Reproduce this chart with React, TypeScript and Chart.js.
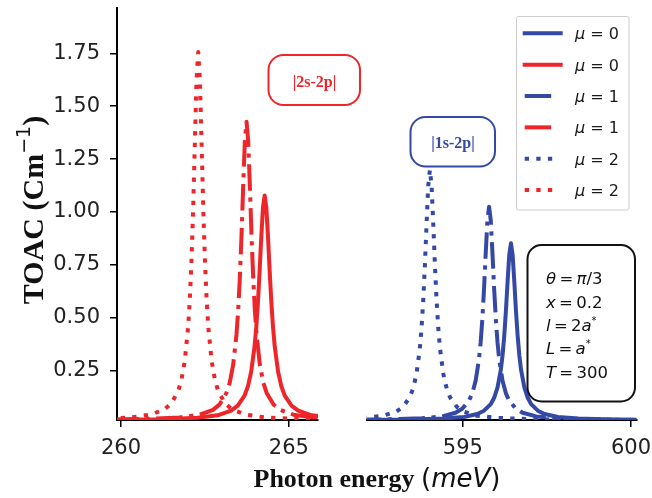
import React, { useEffect, useRef } from "react";
import { Chart, registerables } from "chart.js";
Chart.register(...registerables);

// ---------- data ----------
const xTicksLeft = [260, 265];
const xTicksRight = [595, 600];
const yTicks = [0.25, 0.5, 0.75, 1.0, 1.25, 1.5, 1.75];
const legendMu = [0, 0, 1, 1, 2, 2];

// |2s-2p| (red)
const red0X = [258.28, 260.28, 261.28, 262.28, 262.88, 263.28, 263.48, 263.68, 263.78, 263.88, 263.98, 264.03, 264.08, 264.13, 264.18, 264.23, 264.28, 264.33, 264.38, 264.43, 264.48, 264.53, 264.58, 264.68, 264.78, 264.88, 265.08, 265.28, 265.68, 266.28, 267.28, 268.28, 270.28];
const red0Y = [0.017, 0.019, 0.021, 0.028, 0.039, 0.061, 0.085, 0.132, 0.175, 0.246, 0.365, 0.455, 0.573, 0.719, 0.882, 1.021, 1.078, 1.021, 0.882, 0.719, 0.573, 0.455, 0.365, 0.246, 0.175, 0.132, 0.085, 0.061, 0.039, 0.028, 0.021, 0.019, 0.017];

const red1X = [257.74, 259.74, 260.74, 261.74, 262.34, 262.74, 262.94, 263.14, 263.24, 263.34, 263.44, 263.49, 263.54, 263.59, 263.64, 263.69, 263.74, 263.79, 263.84, 263.89, 263.94, 263.99, 264.04, 264.14, 264.24, 264.34, 264.54, 264.74, 265.14, 265.74, 266.74, 267.74, 269.74];
const red1Y = [0.017, 0.019, 0.022, 0.029, 0.042, 0.065, 0.091, 0.145, 0.194, 0.276, 0.42, 0.533, 0.685, 0.885, 1.121, 1.336, 1.427, 1.336, 1.121, 0.885, 0.685, 0.533, 0.42, 0.276, 0.194, 0.145, 0.091, 0.065, 0.042, 0.029, 0.022, 0.019, 0.017];

const red2X = [256.3, 258.3, 259.3, 260.3, 260.9, 261.3, 261.5, 261.7, 261.8, 261.9, 262.0, 262.05, 262.1, 262.15, 262.2, 262.25, 262.3, 262.35, 262.4, 262.45, 262.5, 262.55, 262.6, 262.7, 262.8, 262.9, 263.1, 263.3, 263.7, 264.3, 265.3, 266.3, 268.3];
const red2Y = [0.018, 0.019, 0.022, 0.029, 0.043, 0.068, 0.096, 0.152, 0.206, 0.296, 0.458, 0.588, 0.771, 1.019, 1.328, 1.625, 1.756, 1.625, 1.328, 1.019, 0.771, 0.588, 0.458, 0.296, 0.206, 0.152, 0.096, 0.068, 0.043, 0.029, 0.022, 0.019, 0.018];

// |1s-2p| (blue)
const blue0X = [590.43, 592.43, 593.43, 594.43, 595.03, 595.43, 595.63, 595.83, 595.93, 596.03, 596.13, 596.18, 596.23, 596.28, 596.33, 596.38, 596.43, 596.48, 596.53, 596.58, 596.63, 596.68, 596.73, 596.83, 596.93, 597.03, 597.23, 597.43, 597.83, 598.43, 599.43, 600.43, 602.43];
const blue0Y = [0.017, 0.018, 0.019, 0.024, 0.031, 0.045, 0.061, 0.092, 0.122, 0.17, 0.255, 0.322, 0.413, 0.531, 0.671, 0.798, 0.852, 0.798, 0.671, 0.531, 0.413, 0.322, 0.255, 0.17, 0.122, 0.092, 0.061, 0.045, 0.031, 0.024, 0.019, 0.018, 0.017];

const blue1X = [589.78, 591.78, 592.78, 593.78, 594.38, 594.78, 594.98, 595.18, 595.28, 595.38, 595.48, 595.53, 595.58, 595.63, 595.68, 595.73, 595.78, 595.83, 595.88, 595.93, 595.98, 596.03, 596.08, 596.18, 596.28, 596.38, 596.58, 596.78, 597.18, 597.78, 598.78, 599.78, 601.78];
const blue1Y = [0.017, 0.018, 0.02, 0.025, 0.034, 0.051, 0.07, 0.108, 0.143, 0.202, 0.305, 0.385, 0.495, 0.638, 0.806, 0.96, 1.025, 0.96, 0.806, 0.638, 0.495, 0.385, 0.305, 0.202, 0.143, 0.108, 0.07, 0.051, 0.034, 0.025, 0.02, 0.018, 0.017];

const blue2X = [588.02, 590.02, 591.02, 592.02, 592.62, 593.02, 593.22, 593.42, 593.52, 593.62, 593.72, 593.77, 593.82, 593.87, 593.92, 593.97, 594.02, 594.07, 594.12, 594.17, 594.22, 594.27, 594.32, 594.42, 594.52, 594.62, 594.82, 595.02, 595.42, 596.02, 597.02, 598.02, 600.52];
const blue2Y = [0.017, 0.019, 0.021, 0.027, 0.037, 0.057, 0.079, 0.124, 0.165, 0.234, 0.355, 0.449, 0.578, 0.745, 0.943, 1.123, 1.2, 1.123, 0.943, 0.745, 0.578, 0.449, 0.355, 0.234, 0.165, 0.124, 0.079, 0.057, 0.037, 0.027, 0.021, 0.019, 0.017];

// ---------- styles ----------
const W = 652;
const H = 498;
const RED = "#ee2529";
const BLUE = "#3448a6";
const SOLID: number[] = [];
const DOT = [4.3, 7.3];
const DASHDOT = [26.5, 6.6, 4.2, 6.6];
const Y_MIN = 0.017;
const Y_MAX = 1.964;
const TS = "\u2009";

const SERIF_B = (s: number) => `bold ${s}px "Liberation Serif"`;
const SANS = (s: number) => `${s}px "DejaVu Sans"`;
const SANS_I = (s: number) => `italic ${s}px "DejaVu Sans"`;

const pts = (xs: number[], ys: number[]) => xs.map((x, i) => ({ x, y: ys[i] }));

type Run = { t: string; f: string; dy?: number };
function drawRuns(ctx: CanvasRenderingContext2D, x: number, y: number, runs: Run[], center = false) {
  let w = 0;
  for (const r of runs) {
    ctx.font = r.f;
    w += ctx.measureText(r.t).width;
  }
  let cx = center ? x - w / 2 : x;
  for (const r of runs) {
    ctx.font = r.f;
    ctx.fillText(r.t, cx, y + (r.dy || 0));
    cx += ctx.measureText(r.t).width;
  }
}

const legendItems = [
  { color: BLUE, dash: SOLID, end: 560.7 },
  { color: RED, dash: SOLID, end: 560.7 },
  { color: BLUE, dash: DASHDOT, end: 553 },
  { color: RED, dash: DASHDOT, end: 553 },
  { color: BLUE, dash: DOT, end: 553 },
  { color: RED, dash: DOT, end: 553 },
];

const overlay = {
  id: "overlay",
  afterDraw(chart: any) {
    const ctx: CanvasRenderingContext2D = chart.ctx;
    ctx.save();
    ctx.textAlign = "left";
    ctx.textBaseline = "alphabetic";

    // legend
    ctx.fillStyle = "rgba(255,255,255,0.85)";
    ctx.strokeStyle = "#cccccc";
    ctx.lineWidth = 1;
    ctx.beginPath();
    ctx.roundRect(516.5, 16.5, 112.5, 193.5, 2);
    ctx.fill();
    ctx.stroke();
    legendItems.forEach((it, i) => {
      const cy = 33.3 + i * 31.35;
      ctx.strokeStyle = it.color;
      ctx.lineWidth = 4;
      ctx.setLineDash(it.dash);
      ctx.lineCap = it.dash.length ? "butt" : "square";
      ctx.beginPath();
      ctx.moveTo(524.7, cy);
      ctx.lineTo(it.end, cy);
      ctx.stroke();
      ctx.setLineDash([]);
      ctx.lineCap = "butt";
      ctx.fillStyle = "#1a1a1a";
      drawRuns(ctx, 575, cy + 6, [
        { t: "μ", f: SANS_I(16) },
        { t: " = " + legendMu[i], f: SANS(16) },
      ]);
    });

    // |2s-2p| box
    ctx.lineWidth = 2;
    ctx.fillStyle = "#ffffff";
    ctx.strokeStyle = RED;
    ctx.beginPath();
    ctx.roundRect(268.5, 55, 91.5, 50, 15);
    ctx.fill();
    ctx.stroke();
    ctx.fillStyle = RED;
    drawRuns(ctx, 314.5, 86.5, [{ t: "|2s-2p|", f: SERIF_B(16) }], true);

    // |1s-2p| box
    ctx.fillStyle = "#ffffff";
    ctx.strokeStyle = BLUE;
    ctx.beginPath();
    ctx.roundRect(410.5, 117, 84.5, 49.5, 15);
    ctx.fill();
    ctx.stroke();
    ctx.fillStyle = BLUE;
    drawRuns(ctx, 453, 148, [{ t: "|1s-2p|", f: SERIF_B(16) }], true);

    // parameter box
    ctx.fillStyle = "#ffffff";
    ctx.strokeStyle = "#111111";
    ctx.beginPath();
    ctx.roundRect(527.5, 245, 107.5, 156.5, 14);
    ctx.fill();
    ctx.stroke();
    ctx.fillStyle = "#111111";
    const fs = 16.5;
    const lines: Run[][] = [
      [{ t: "θ", f: SANS_I(fs) }, { t: TS + "=" + TS, f: SANS(fs) }, { t: "π", f: SANS_I(fs) }, { t: "/3", f: SANS(fs) }],
      [{ t: "x", f: SANS_I(fs) }, { t: TS + "=" + TS + "0.2", f: SANS(fs) }],
      [{ t: "l", f: SANS_I(fs) }, { t: TS + "=" + TS + "2", f: SANS(fs) }, { t: "a", f: SANS_I(fs) }, { t: "*", f: SANS(10), dy: -7 }],
      [{ t: "L", f: SANS_I(fs) }, { t: TS + "=" + TS, f: SANS(fs) }, { t: "a", f: SANS_I(fs) }, { t: "*", f: SANS(10), dy: -7 }],
      [{ t: "T", f: SANS_I(fs) }, { t: TS + "=" + TS + "300", f: SANS(fs) }],
    ];
    lines.forEach((runs, i) => drawRuns(ctx, 546, 284.3 + i * 23.35, runs));

    // x-axis title
    ctx.fillStyle = "#111111";
    drawRuns(
      ctx,
      377,
      487,
      [
        { t: "Photon energy ", f: SERIF_B(26) },
        { t: "(", f: SANS(26) },
        { t: "meV", f: SANS_I(26) },
        { t: ")", f: SANS(26) },
      ],
      true
    );

    // y-axis title
    ctx.translate(43, 210);
    ctx.rotate(-Math.PI / 2);
    drawRuns(
      ctx,
      0,
      0,
      [
        { t: "TOAC (Cm", f: SERIF_B(30) },
        { t: "−1", f: SANS(19), dy: -13 },
        { t: ")", f: SERIF_B(30) },
      ],
      true
    );
    ctx.restore();
  },
};

function lineDs(xs: number[], ys: number[], color: string, dash: number[]) {
  return {
    data: pts(xs, ys),
    borderColor: color,
    borderWidth: 4,
    borderDash: dash,
    borderCapStyle: "butt",
    borderJoinStyle: "round",
    pointRadius: 0,
    fill: false,
    tension: 0,
  };
}

function xScale(min: number, max: number, ticks: number[]) {
  return {
    type: "linear",
    min,
    max,
    afterBuildTicks: (s: any) => {
      s.ticks = ticks.map((v) => ({ value: v }));
    },
    afterFit: (s: any) => {
      s.height = 78;
      s.paddingLeft = 0;
      s.paddingRight = 0;
    },
    grid: { display: true, drawOnChartArea: false, drawTicks: true, tickLength: 7, color: "#000", lineWidth: 1.5 },
    border: { display: true, color: "#000", width: 2 },
    ticks: {
      font: { family: "DejaVu Sans", size: 21 },
      color: "#222",
      padding: 9,
      maxRotation: 0,
      autoSkip: false,
      callback: (v: any) => String(v),
    },
  };
}

export default function App() {
  const leftRef = useRef<HTMLCanvasElement>(null);
  const rightRef = useRef<HTMLCanvasElement>(null);

  useEffect(() => {
    const left = new Chart(leftRef.current as HTMLCanvasElement, {
      type: "line",
      data: {
        datasets: [
          lineDs(red0X, red0Y, RED, SOLID),
          lineDs(red1X, red1Y, RED, DASHDOT),
          lineDs(red2X, red2Y, RED, DOT),
        ] as any,
      },
      options: {
        responsive: false,
        animation: false,
        devicePixelRatio: 1,
        layout: { padding: { left: 0, right: W - 318, top: 8, bottom: 0 } },
        plugins: { legend: { display: false }, tooltip: { enabled: false } },
        scales: {
          x: xScale(259.88, 265.87, xTicksLeft) as any,
          y: {
            type: "linear",
            min: Y_MIN,
            max: Y_MAX,
            afterBuildTicks: (s: any) => {
              s.ticks = yTicks.map((v) => ({ value: v }));
            },
            afterFit: (s: any) => {
              s.width = 117;
              s.paddingTop = 0;
              s.paddingBottom = 0;
            },
            grid: { display: true, drawOnChartArea: false, drawTicks: true, tickLength: 7, color: "#000", lineWidth: 1.5 },
            border: { display: true, color: "#000", width: 2 },
            ticks: {
              font: { family: "DejaVu Sans", size: 21 },
              color: "#222",
              padding: 10,
              callback: (v: any) => Number(v).toFixed(2),
            },
          },
        },
      } as any,
    });

    const right = new Chart(rightRef.current as HTMLCanvasElement, {
      type: "line",
      data: {
        datasets: [
          lineDs(blue0X, blue0Y, BLUE, SOLID),
          lineDs(blue1X, blue1Y, BLUE, DASHDOT),
          lineDs(blue2X, blue2Y, BLUE, DOT),
        ] as any,
      },
      options: {
        responsive: false,
        animation: false,
        devicePixelRatio: 1,
        layout: { padding: { left: 366.7, right: W - 636.7, top: 8, bottom: 0 } },
        plugins: { legend: { display: false }, tooltip: { enabled: false } },
        scales: {
          x: xScale(592.14, 600.17, xTicksRight) as any,
          y: { type: "linear", display: false, min: Y_MIN, max: Y_MAX },
        },
      } as any,
      plugins: [overlay as any],
    });

    return () => {
      left.destroy();
      right.destroy();
    };
  }, []);

  return (
    <div style={{ position: "absolute", left: 0, top: 0, width: W, height: H, background: "#fff" }}>
      <canvas ref={leftRef} width={W} height={H} style={{ position: "absolute", left: 0, top: 0 }} />
      <canvas ref={rightRef} width={W} height={H} style={{ position: "absolute", left: 0, top: 0 }} />
    </div>
  );
}
